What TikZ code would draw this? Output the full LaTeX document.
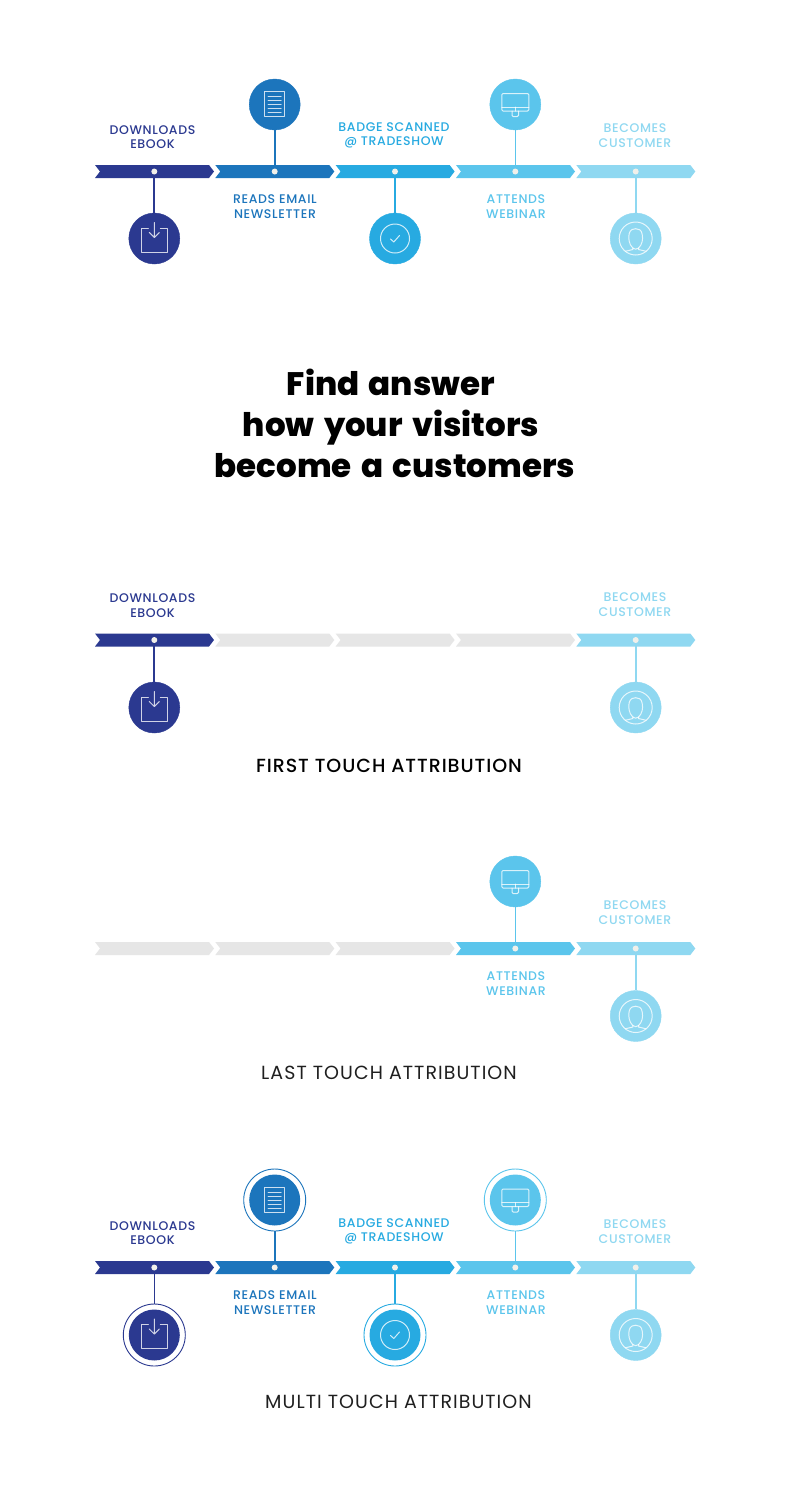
\documentclass[tikz,border=0pt]{standalone}
\usepackage{fontspec}
\setmainfont{Poppins}
\newfontfamily\labelfont{Poppins}[UprightFont=* Medium,LetterSpace=5,WordSpace=1.4]
\newfontfamily\titlefont{Poppins}[LetterSpace=5.5]
\newfontfamily\titlefontm{Poppins}[UprightFont=* Medium,LetterSpace=5]
\newfontfamily\headfont{Poppins}[UprightFont=* ExtraBold,WordSpace=1.5]
\definecolor{stepA}{HTML}{2B3990}
\definecolor{stepB}{HTML}{1C75BC}
\definecolor{stepC}{HTML}{27AAE1}
\definecolor{stepD}{HTML}{5BC5EC}
\definecolor{stepE}{HTML}{8FD8F1}
\definecolor{idle}{HTML}{E6E6E6}
\definecolor{pin}{HTML}{F1F0EA}
\tikzset{
  dotmark/.style={circle,fill=pin,minimum size=6pt,inner sep=0pt},
  badge/.style={circle,minimum size=51pt,inner sep=0pt},
  plain/.style={circle,minimum size=51pt,inner sep=0pt},
  ringed/.style={circle,draw,line width=0.9pt,minimum size=62pt,inner sep=0pt},
  stemline/.style={line width=1.6pt},
  lab/.style={font=\labelfont\fontsize{12.5}{14.7}\selectfont,align=center,inner sep=0pt},
  captitle/.style={font=\titlefont\fontsize{19}{20}\selectfont,inner sep=0pt,text=black,text opacity=0.88},
  headline/.style={font=\headfont\fontsize{32.5}{41}\selectfont,inner sep=0pt,text=black,anchor=base},
  glyph/.style={draw=white,draw opacity=0.78,line width=1pt,line join=round,line cap=round}
}
% one chevron of a journey bar: left edge, bar height position, colour
\newcommand{\chevron}[3]{%
  \fill[#3] (#1,#2-6.5) -- (#1+114,#2-6.5) -- (#1+119,#2) -- (#1+114,#2+6.5)
    -- (#1,#2+6.5) -- (#1+5,#2) -- cycle;}
% a five-part bar, coloured per segment
\newcommand{\journeybar}[6]{%
  \chevron{95}{#1}{#2}\chevron{215.3}{#1}{#3}\chevron{335.6}{#1}{#4}%
  \chevron{456}{#1}{#5}\chevron{576.3}{#1}{#6}}
% icons, drawn around the local origin
\newcommand{\icondownload}{%
  \draw[glyph] (-6,-10.5) -- (-13.3,-10.5) -- (-13.3,13.5) -- (13.3,13.5) -- (13.3,-10.5) -- (6,-10.5);
  \draw[glyph] (0,-16) -- (0,-1) (-5,-6) -- (0,-1) -- (5,-6);}
\newcommand{\icondoc}{%
  \draw[glyph] (-10,-13) rectangle (10,12);
  \draw[glyph] (-6.5,-8) -- (6.5,-8) (-6.5,-4) -- (6.5,-4) (-6.5,0) -- (6.5,0)
    (-6.5,4) -- (6.5,4) (-6.5,8) -- (6.5,8);}
\newcommand{\iconcheck}{%
  \draw[glyph] (0,0) circle (14.5);
  \draw[glyph] (-4.5,0.5) -- (-1.2,3.5) -- (4.5,-3);}
\newcommand{\iconscreen}{%
  \draw[glyph,rounded corners=1.2pt] (-13.5,-11) rectangle (13.5,6.5);
  \draw[glyph] (-13.5,2.5) -- (13.5,2.5);
  \draw[glyph] (0,2.5) -- (0,6.5);
  \draw[glyph,rounded corners=1.2pt] (-3.3,6.5) -- (-3.3,12) -- (3.3,12) -- (3.3,6.5);}
\newcommand{\iconperson}{%
  \draw[glyph] (0,0) circle (16.5);
  \draw[glyph] (-2.8,9.6) .. controls (-7,6) and (-7.5,-1) .. (-6.5,-5)
    .. controls (-5.5,-9) and (-2,-10) .. (0,-9.8)
    .. controls (3,-10) and (6,-8.5) .. (6.5,-4)
    .. controls (7.5,1) and (6.5,6) .. (2.8,9.6);
  \draw[glyph] (-2.8,9.6) -- (-2.8,11) -- (-10.5,12.8);
  \draw[glyph] (2.8,9.6) -- (2.8,11) -- (10.5,12.8);
  \draw[glyph] (-2.8,9.6) .. controls (-1,11) and (1,11) .. (2.8,9.6);}
% milestone: name, x, bar position, colour, offset from the bar, icon, ring style
\newcommand{\milestone}[7]{%
  \node[dotmark] (#1dot) at (#2,#3) {};
  \node[badge,fill=#4] (#1) at (#2,#3+#5) {};
  \node[#7,draw=#4] (#1ring) at (#2,#3+#5) {};
  \draw[stemline,#4] (#1dot) -- (#1ring);
  \begin{scope}[shift={(#1.center)}]#6\end{scope}}
\begin{document}
\begin{tikzpicture}[x=1pt,y=-1pt]
\useasboundingbox[fill=white] (0,0) rectangle (800,1500);

% complete journey
\journeybar{171.5}{stepA}{stepB}{stepC}{stepD}{stepE}
\node[lab,text=stepA] (tDown) at (152.5,137) {DOWNLOADS\\EBOOK};
\node[lab,text=stepB] (tRead) at (275,206.5) {READS EMAIL\\NEWSLETTER};
\node[lab,text=stepC] (tBadge) at (394,135.5) {BADGE SCANNED\\@ TRADESHOW};
\node[lab,text=stepD] (tWeb) at (516,206.5) {ATTENDS\\WEBINAR};
\node[lab,text=stepE] (tCust) at (635,135.5) {BECOMES\\CUSTOMER};
\begin{scope}[stemline/.append style={line width=2.1pt}]
\milestone{tA}{154.3}{171.5}{stepA}{67}{\icondownload}{plain}
\end{scope}
\milestone{tB}{274.7}{171.5}{stepB}{-67}{\icondoc}{plain}
\milestone{tC}{395}{171.5}{stepC}{67}{\iconcheck}{plain}
\milestone{tD}{515.3}{171.5}{stepD}{-67}{\iconscreen}{plain}
\milestone{tE}{635.7}{171.5}{stepE}{67}{\iconperson}{plain}

% headline
\node[headline] (h1) at (391,395) {Find answer};
\node[headline] (h2) at (391,436) {how your visitors};
\node[headline] (h3) at (395,477) {become a customers};

% first touch
\journeybar{640}{stepA}{idle}{idle}{idle}{stepE}
\node[lab,text=stepA] (fDown) at (152.5,605.5) {DOWNLOADS\\EBOOK};
\node[lab,text=stepE] (fCust) at (635,604.5) {BECOMES\\CUSTOMER};
\begin{scope}[stemline/.append style={line width=2.1pt}]
\milestone{fA}{154.3}{640}{stepA}{67.5}{\icondownload}{plain}
\end{scope}
\milestone{fE}{635.7}{640}{stepE}{67.5}{\iconperson}{plain}
\node[captitle,font=\titlefontm\fontsize{19}{20}\selectfont,text opacity=1] (fTitle) at (389,765.5) {FIRST TOUCH ATTRIBUTION};

% last touch
\journeybar{948.5}{idle}{idle}{idle}{stepD}{stepE}
\node[lab,text=stepD] (lWeb) at (516,983.5) {ATTENDS\\WEBINAR};
\node[lab,text=stepE] (lCust) at (635,912.5) {BECOMES\\CUSTOMER};
\milestone{lD}{515.3}{948.5}{stepD}{-67}{\iconscreen}{plain}
\milestone{lE}{635.7}{948.5}{stepE}{67.5}{\iconperson}{plain}
\node[captitle] (lTitle) at (389,1073) {LAST TOUCH ATTRIBUTION};

% multi touch
\journeybar{1267.5}{stepA}{stepB}{stepC}{stepD}{stepE}
\node[lab,text=stepA] (mDown) at (152.5,1233) {DOWNLOADS\\EBOOK};
\node[lab,text=stepB] (mRead) at (275,1302.5) {READS EMAIL\\NEWSLETTER};
\node[lab,text=stepC] (mBadge) at (394,1231.5) {BADGE SCANNED\\@ TRADESHOW};
\node[lab,text=stepD] (mWeb) at (516,1302.5) {ATTENDS\\WEBINAR};
\node[lab,text=stepE] (mCust) at (635,1231.5) {BECOMES\\CUSTOMER};
\begin{scope}[stemline/.append style={line width=1.2pt}]
\milestone{mA}{154.3}{1267.5}{stepA}{67.5}{\icondownload}{ringed}
\end{scope}
\milestone{mB}{274.7}{1267.5}{stepB}{-67.5}{\icondoc}{ringed}
\milestone{mC}{395}{1267.5}{stepC}{67.5}{\iconcheck}{ringed}
\milestone{mD}{515.3}{1267.5}{stepD}{-67.5}{\iconscreen}{ringed}
\milestone{mE}{635.7}{1267.5}{stepE}{67.5}{\iconperson}{plain}
\node[captitle] (mTitle) at (398.5,1401.5) {MULTI TOUCH ATTRIBUTION};
\end{tikzpicture}
\end{document}
